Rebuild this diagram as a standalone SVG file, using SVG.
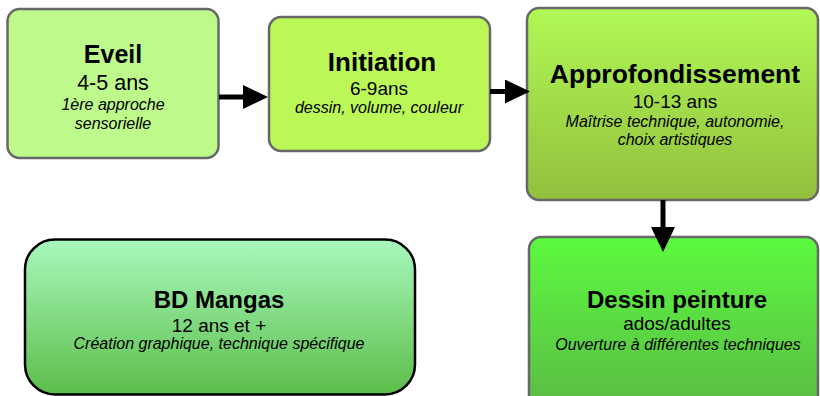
<svg xmlns="http://www.w3.org/2000/svg" width="820" height="396" viewBox="0 0 820 396">
<style>
.box{stroke:#686868;stroke-width:2.5}
.t{font-family:"Liberation Sans",Arial,sans-serif;text-anchor:middle;fill:#000}
.h{font-size:25px;font-weight:bold}
.a{font-size:19px}
.d{font-size:16px;font-style:italic}
.conn{stroke:#000;stroke-width:5;fill:none}
</style>
<defs>
<marker id="ah" markerUnits="userSpaceOnUse" markerWidth="26" markerHeight="26" refX="2" refY="12" orient="auto">
<path d="M0,0 L25,12 L0,24 Z" fill="#000"/>
</marker>
<linearGradient id="gA" x1="0" y1="0" x2="0" y2="1"><stop offset="0" stop-color="#b0f956"/><stop offset="1" stop-color="#93bf3d"/></linearGradient>
<linearGradient id="gD" x1="0" y1="0" x2="0" y2="1"><stop offset="0" stop-color="#5cfa3f"/><stop offset="1" stop-color="#5bbb45"/></linearGradient>
<linearGradient id="gB" x1="0" y1="0" x2="0" y2="1"><stop offset="0" stop-color="#a8f9bd"/><stop offset="1" stop-color="#5cbe4a"/></linearGradient>
</defs>
<rect width="820" height="396" fill="#fff"/>
<g id="eveil">
<rect class="box" x="7.5" y="9" width="211" height="149" rx="12" fill="#bdf98b"/>
<text class="t h" x="113" y="63">Eveil</text>
<text class="t a" x="113" y="90" style="font-size:21.5px">4-5 ans</text>
<text class="t d" x="113" y="110">1ère approche</text>
<text class="t d" x="113" y="129">sensorielle</text>
</g>
<g id="initiation">
<rect class="box" x="269" y="17" width="221" height="134" rx="12" fill="#bbf756"/>
<text class="t h" x="382" y="71" style="font-size:26px">Initiation</text>
<text class="t a" x="379" y="95">6-9ans</text>
<text class="t d" x="379" y="113">dessin, volume, couleur</text>
</g>
<g id="approfondissement">
<rect class="box" x="527" y="8" width="291" height="192" rx="12" fill="url(#gA)"/>
<text class="t h" x="675" y="83" style="font-size:26.5px">Approfondissement</text>
<text class="t a" x="675" y="108">10-13 ans</text>
<text class="t d" x="675" y="127">Maîtrise technique, autonomie,</text>
<text class="t d" x="675" y="145">choix artistiques</text>
</g>
<g id="dessin-peinture">
<rect class="box" x="529" y="237" width="289" height="172" rx="12" fill="url(#gD)"/>
<text class="t h" x="677" y="308" style="font-size:24px">Dessin peinture</text>
<text class="t a" x="677" y="330">ados/adultes</text>
<text class="t d" x="678" y="350">Ouverture à différentes techniques</text>
</g>
<g id="bd-mangas">
<rect x="25" y="239.5" width="390" height="155" rx="30" fill="url(#gB)" stroke="#000" stroke-width="2.5"/>
<text class="t h" x="219" y="308" style="font-size:24px">BD Mangas</text>
<text class="t a" x="219" y="332">12 ans et +</text>
<text class="t d" x="219" y="349">Création graphique, technique spécifique</text>
</g>
<g id="connectors">
<line class="conn" x1="219" y1="97" x2="245" y2="97" marker-end="url(#ah)"/>
<line class="conn" x1="490" y1="91.5" x2="507" y2="91.5" marker-end="url(#ah)"/>
<line class="conn" x1="663" y1="200" x2="663" y2="229" marker-end="url(#ah)"/>
</g>
</svg>
